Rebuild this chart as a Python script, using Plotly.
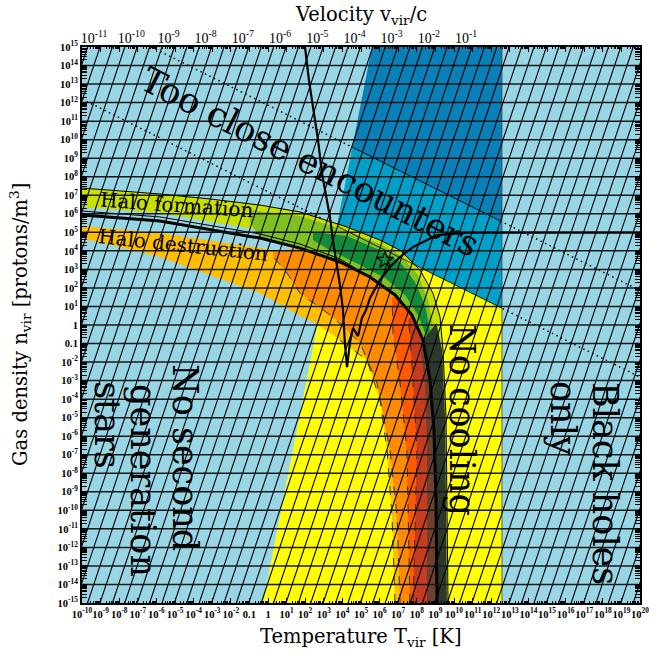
import numpy as np
import plotly.graph_objects as go

# ---------------- axes ----------------
T_EXP = list(range(-10, 21))      # log10 T_vir [K]
N_EXP = list(range(-15, 16))      # log10 n_vir [protons/m^3]
V_EXP = list(range(-11, 0))       # log10 v_vir/c
LOGT_OF_V2 = 12.65                # log T = 2 log(v/c) + 12.65

# ---------------- boundaries (log10 T, log10 n) ----------------
# black-hole limit
T_BH = 12.58
# close-encounter lines: log n = c - 0.5 log T
ENC_UPPER = 11.86
ENC_LOWER = 7.19

dark_blue_logT = [5.59, 12.58, 12.58, 4.53]
dark_blue_logn = [15.0, 15.0, 5.57, 9.59]
mid_blue_logT = [4.53, 12.58, 12.58, 3.70]
mid_blue_logn = [9.59, 5.57, 0.90, 5.34]
yellow_logT = [3.70, 12.58, 12.58, -0.27]
yellow_logn = [5.34, 0.90, -15.0, -15.0]

# halo formation band: upper edge U and lower edge L
U_logT = [-10, -7.96, -5.81, -3.12, -0.43, 1.72, 4.25, 6.02, 7.10, 8.17, 8.87, 9.25, 9.41, 9.57, 9.62, 9.68]
U_logn = [7.39, 7.23, 7.07, 6.80, 6.47, 6.10, 5.29, 4.58, 4.04, 2.97, 1.72, 0.43, -1.35, -4.97, -9.45, -15]
L_logT = [-10, -5.81, -0.43, 1.72, 3.87, 5.48, 6.83, 7.74, 8.33, 8.71, 8.92, 9.03, 9.09]
L_logn = [5.93, 5.61, 4.69, 4.15, 3.40, 2.59, 1.62, 0.54, -0.81, -2.97, -5.67, -9.45, -15]
L2_logT = [-10, -5.81, -0.43, 1.72, 3.87, 5.48]
L2_logn = [6.15, 5.83, 4.91, 4.37, 3.56, 2.59]
YG_low_logT = [-10, -5.81, -0.43, 1.72]
YG_low_logn = [6.37, 6.04, 5.12, 4.58]

green_top_logT = [-0.97, 1.72, 4.25, 6.02, 7.10, 8.06, 8.60, 8.92, 9.14, 9.25]
green_top_logn = [6.20, 5.88, 5.07, 4.37, 3.78, 2.70, 1.35, -0.27, -2.97, -5.13]
green_low_logT = [8.92, 8.71, 8.33, 7.74, 6.83, 5.48, 3.87, 1.72, -0.43, -0.97]
green_low_logn = [-5.67, -2.97, -0.81, 0.54, 1.62, 2.59, 3.40, 4.20, 4.69, 5.56]

dgreen_logT = [2.42, 4.25, 6.02, 7.10, 7.90, 8.44, 8.82, 8.60, 8.06, 7.37, 6.29, 4.95, 3.33, 2.42]
dgreen_logn = [5.02, 4.80, 4.04, 3.40, 2.32, 1.08, -0.81, -0.81, 0.54, 1.62, 2.53, 3.24, 4.04, 4.58]

dgray_logT = [8.33, 8.71, 8.92, 9.03, 9.09, 9.62, 9.57, 9.52, 9.36, 9.05]
dgray_logn = [-0.81, -2.97, -5.67, -9.45, -15, -15, -9.45, -4.97, -1.35, 0.10]

# halo destruction family
amber_top_logT = [-10, -5.81, -0.43, 1.72]
amber_top_logn = [5.34, 4.96, 4.15, 3.72]
amber_low_logT = [6.83, 6.67, 6.40, 6.02, 5.32, 3.49, 2.42, 1.72, -0.43, -5.81, -10]
amber_low_logn = [-15, -10.36, -6.75, -4.05, -1.89, -0.54, 0.16, 0.48, 1.72, 3.67, 4.69]
orange_low_logT = [7.10, 6.94, 6.56, 5.86, 4.95, 3.49, 1.72, 0.91, 0.27, 0.27]
orange_low_logn = [-15, -10.36, -6.75, -3.13, -0.97, 0.43, 1.72, 2.97, 3.67, 3.94]
dorange_left_logT = [7.63, 7.47, 7.10, 6.72, 6.67]
dorange_left_logn = [-15, -6.75, -3.13, -0.43, 1.45]
red_left_logT = [7.80, 7.90, 8.01, 7.80, 7.63, 7.53]
red_left_logn = [-15, -10.52, -6.75, -3.13, -0.43, 0.27]
brown_left_logT = [8.55, 8.55, 8.44, 8.23]
brown_left_logn = [-15, -6.75, -3.13, -1.62]

# cooling curve
cool_logT = [1.99, 2.20, 2.42, 2.69, 2.90, 3.12, 3.33, 3.49, 3.66, 3.87, 4.03, 4.14, 4.25,
             4.41, 4.57, 4.84, 5.05, 5.27, 5.48, 6.02, 6.56, 7.10, 7.80, 9.09, 10.70, 20]
cool_logn = [15, 13.22, 11.76, 9.98, 8.20, 6.91, 5.83, 4.58, 3.50, 2.16, 0.81, -1.08, -2.27,
             -0.92, -0.16, -0.60, 0.38, 0.81, 1.45, 2.43, 3.13, 3.67, 4.21, 4.85, 4.98, 4.98]

# our universe
star_logT, star_logn = 6.29, 3.50

# constant-mass guide lines: n ∝ T^3, one per decade of mass
MASS_STEP_LOGT = 2.0 / 3.0
MASS_ZERO_LOGT = -9.70   # where one guide line meets n = 1e-15

C_LBLUE = "#98d6e6"
C_DBLUE = "#0a80b8"
C_MBLUE = "#00a0c8"
C_YELLOW = "#ffff00"
C_AMBER = "#ffbf00"
C_ORANGE = "#ff8c00"
C_DORANGE = "#ff5a00"
C_RED = "#c83c1e"
C_BROWN = "#6e4030"
C_DGRAY = "#2d382d"
C_YG = "#c8e000"
C_GREEN = "#80c020"
C_DGREEN = "#108c3c"


def P(a):
    return np.power(10.0, np.asarray(a, dtype=float))


fig = go.Figure()


def poly(lt, ln, color):
    fig.add_trace(go.Scatter(x=P(lt), y=P(ln), mode="lines", fill="toself",
                             fillcolor=color, line=dict(width=0),
                             hoverinfo="skip", showlegend=False))


def line(lt, ln, width=1.0, dash="solid", color="black"):
    fig.add_trace(go.Scatter(x=P(lt), y=P(ln), mode="lines",
                             line=dict(width=width, dash=dash, color=color),
                             hoverinfo="skip", showlegend=False))


def enc(c, t):
    return c - 0.5 * t


DOTS = "1.5px,3.5px"
t_top = (ENC_UPPER - 15) / 0.5
# dotted encounter lines (seen only where the light blue shows through)
line([t_top, 20], [15, enc(ENC_UPPER, 20)], 1.5, DOTS)
line([-10, 20], [enc(ENC_LOWER, -10), enc(ENC_LOWER, 20)], 1.5, DOTS)

# regions
poly(dark_blue_logT, dark_blue_logn, C_DBLUE)
poly(mid_blue_logT, mid_blue_logn, C_MBLUE)
poly(yellow_logT, yellow_logn, C_YELLOW)

iL = L_logT.index(3.87)
amber_lt = amber_top_logT + L_logT[iL:] + amber_low_logT
amber_ln = amber_top_logn + L_logn[iL:] + amber_low_logn
poly(amber_lt, amber_ln, C_AMBER)
iO = L_logT.index(1.72)
poly([0.27] + L_logT[iO:] + orange_low_logT, [3.94] + L_logn[iO:] + orange_low_logn, C_ORANGE)
iD = L_logT.index(6.83)
poly(L_logT[iD:] + dorange_left_logT, L_logn[iD:] + dorange_left_logn, C_DORANGE)
iR = L_logT.index(7.74)
poly(L_logT[iR:] + red_left_logT, L_logn[iR:] + red_left_logn, C_RED)
iB = L_logT.index(8.33)
poly(L_logT[iB:] + brown_left_logT, L_logn[iB:] + brown_left_logn, C_BROWN)

yg_lt = U_logT + L_logT[iL:][::-1] + YG_low_logT[::-1]
yg_ln = U_logn + L_logn[iL:][::-1] + YG_low_logn[::-1]
poly(yg_lt, yg_ln, C_YG)
poly(green_top_logT + green_low_logT, green_top_logn + green_low_logn, C_GREEN)
poly(dgreen_logT, dgreen_logn, C_DGREEN)
poly(dgray_logT, dgray_logn, C_DGRAY)

# dashed contours of the destruction family
line(amber_low_logT[:6], amber_low_logn[:6], 1, "dash", "#333")
line(orange_low_logT, orange_low_logn, 1, "dash", "#333")
line(dorange_left_logT, dorange_left_logn, 1, "dash", "#333")
line(red_left_logT, red_left_logn, 1, "dash", "#333")

# solid boundaries
line([4.53, T_BH], [enc(ENC_UPPER, 4.53), enc(ENC_UPPER, T_BH)], 1)
line([3.70, T_BH], [enc(ENC_LOWER, 3.70), enc(ENC_LOWER, T_BH)], 0.8)
line([T_BH, T_BH], [-15, 15], 0.8, color="#444")
line(U_logT, U_logn, 1)
line(L2_logT, L2_logn, 1)
line(L_logT, L_logn, 3)

# horizontal decade lines
hx, hy = [], []
for e in N_EXP[1:-1]:
    hx += [1e-10, 1e20, None]
    hy += [10.0 ** e, 10.0 ** e, None]
fig.add_trace(go.Scatter(x=hx, y=hy, mode="lines", line=dict(color="#1a1a1a", width=1.5),
                         hoverinfo="skip", showlegend=False))

# constant-mass guide lines
dx, dy = [], []
k0 = int(np.floor((-20 - MASS_ZERO_LOGT) / MASS_STEP_LOGT))
k1 = int(np.ceil((20 - MASS_ZERO_LOGT) / MASS_STEP_LOGT))
for k in range(k0, k1 + 1):
    t0 = MASS_ZERO_LOGT + k * MASS_STEP_LOGT
    dx += [10.0 ** t0, 10.0 ** (t0 + 10.0), None]
    dy += [1e-15, 1e15, None]
fig.add_trace(go.Scatter(x=dx, y=dy, mode="lines", line=dict(color="black", width=1.1),
                         hoverinfo="skip", showlegend=False))

# cooling curve and our universe
line(cool_logT, cool_logn, 2.2)
fig.add_trace(go.Scatter(x=[10 ** star_logT], y=[10 ** star_logn], mode="markers",
                         marker=dict(symbol="star-open", size=13, color="black",
                                     line=dict(width=1.2, color="black")),
                         hoverinfo="skip", showlegend=False))

# top velocity axis carrier
fig.add_trace(go.Scatter(x=[10.0 ** V_EXP[0], 10.0 ** V_EXP[-1]], y=[1, 1], xaxis="x2",
                         mode="markers", marker=dict(opacity=0), hoverinfo="skip",
                         showlegend=False))


def lab(e, bold=True):
    s = "1" if e == 0 else ("0.1" if e == -1 else f"10<sup>{e}</sup>")
    return f"<b>{s}</b>" if bold else s


TICKFONT = dict(family="Liberation Serif", size=10.5, color="black")
fig.update_layout(
    width=665, height=658,
    margin=dict(l=82, r=25, t=47, b=55),
    paper_bgcolor="white", plot_bgcolor=C_LBLUE,
    showlegend=False,
    xaxis=dict(type="log", range=[-10, 20], tickmode="array",
               tickvals=[10.0 ** e for e in T_EXP], ticktext=[lab(e) for e in T_EXP],
               ticks="inside", ticklen=5, tickcolor="black", showgrid=False,
               showline=True, linewidth=2, linecolor="black", mirror="allticks",
               tickfont=TICKFONT, tickangle=0,
               minor=dict(ticks="inside", ticklen=2, tickcolor="black", dtick="D1", showgrid=False),
               zeroline=False),
    xaxis2=dict(type="log", overlaying="x", side="top", anchor="y",
                range=[(-10 - LOGT_OF_V2) / 2, (20 - LOGT_OF_V2) / 2],
                tickmode="array", tickvals=[10.0 ** e for e in V_EXP],
                ticktext=[f"10<sup>{e}</sup>" for e in V_EXP],
                ticks="", showgrid=False, showline=False,
                tickfont=dict(family="Liberation Serif", size=14, color="black")),
    yaxis=dict(type="log", range=[-15, 15], tickmode="array",
               tickvals=[10.0 ** e for e in N_EXP], ticktext=[lab(e) for e in N_EXP],
               ticks="inside", ticklen=5, tickcolor="black", showgrid=False,
               showline=True, linewidth=2, linecolor="black", mirror="allticks",
               tickfont=TICKFONT,
               minor=dict(ticks="inside", ticklen=2, tickcolor="black", dtick="D1", showgrid=False),
               zeroline=False),
)

TITLE_FONT = dict(family="DejaVu Serif", size=19.5, color="black")
LABEL_FONT = dict(family="DejaVu Serif", size=35, color="black")
HALO_FONT = dict(family="DejaVu Serif", size=20, color="black")
anns = [
    dict(text="Temperature T<sub>vir</sub> [K]", xref="paper", yref="paper", x=0.5, y=0,
         yanchor="middle", yshift=-34, showarrow=False, font=TITLE_FONT),
    dict(text="Velocity v<sub>vir</sub>/c", xref="paper", yref="paper", x=0.5, y=1,
         yanchor="middle", yshift=32, showarrow=False, font=TITLE_FONT),
    dict(text="Gas density n<sub>vir</sub> [protons/m<sup>3</sup>]", xref="paper", yref="paper",
         x=0, y=0.5, xanchor="center", xshift=-62, textangle=-90, showarrow=False, font=TITLE_FONT),
    dict(text="Too close encounters", x=2.26, y=8.79, textangle=27, showarrow=False, font=LABEL_FONT),
    dict(text="Halo formation", x=-4.89, y=6.47, textangle=4, showarrow=False, font=HALO_FONT),
    dict(text="Halo destruction", x=-4.57, y=4.31, textangle=6, showarrow=False, font=HALO_FONT),
    dict(text="stars", x=-8.66, y=-5.40, textangle=90, showarrow=False, font=LABEL_FONT),
    dict(text="generation", x=-6.72, y=-8.37, textangle=90, showarrow=False, font=LABEL_FONT),
    dict(text="No second", x=-4.46, y=-7.13, textangle=90, showarrow=False, font=LABEL_FONT),
    dict(text="No cooling", x=10.43, y=-5.13, textangle=90, showarrow=False, font=LABEL_FONT),
    dict(text="only", x=15.86, y=-5.02, textangle=90, showarrow=False, font=LABEL_FONT),
    dict(text="Black holes", x=18.12, y=-8.53, textangle=90, showarrow=False, font=LABEL_FONT),
]
fig.update_layout(annotations=anns)

fig.write_html("out.html")
